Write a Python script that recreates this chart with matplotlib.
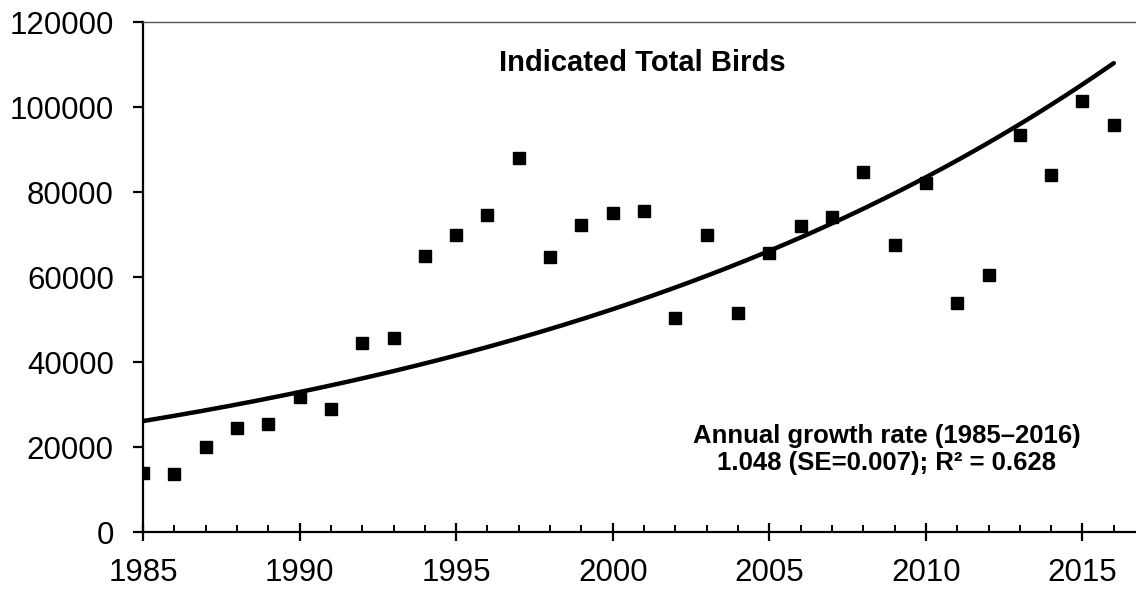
import numpy as np
import matplotlib.pyplot as plt
from matplotlib.ticker import MultipleLocator

years = list(range(1985, 2017))
birds = [14000, 13600, 20000, 24500, 25400, 31700, 28900, 44400, 45700, 65000,
         69900, 74600, 88100, 64600, 72200, 75000, 75600, 50300, 70000, 51500,
         65600, 72000, 74200, 84700, 67500, 82200, 53900, 60400, 93300, 84000,
         101500, 95700]

# fitted exponential trend: start value and annual growth rate
trend_start = 26100
growth_rate = 1.0476


def main():
    plt.rcParams['font.family'] = ['Liberation Sans', 'DejaVu Sans']
    fig = plt.figure(figsize=(11.36, 5.9), dpi=100)
    ax = fig.add_axes([0.1259, 0.0983, 0.8741, 0.8644])

    t = np.linspace(1985, 2016, 200)
    ax.plot(t, trend_start * growth_rate ** (t - 1985), color='black', lw=3.2,
            solid_capstyle='round', zorder=2)
    ax.plot(years, birds, 's', color='black', ms=9, zorder=3)

    ax.set_xlim(1985, 2016.71)
    ax.set_ylim(0, 120000)
    ax.xaxis.set_major_locator(MultipleLocator(5))
    ax.xaxis.set_minor_locator(MultipleLocator(1))
    ax.yaxis.set_major_locator(MultipleLocator(20000))

    ax.spines['right'].set_visible(False)
    ax.spines['top'].set_color('#555555')
    ax.spines['top'].set_linewidth(1.0)
    ax.spines['left'].set_linewidth(1.6)
    ax.spines['bottom'].set_linewidth(1.6)

    ax.tick_params(axis='x', which='major', direction='inout', length=13, width=1.6,
                   labelsize=22.5, pad=12)
    ax.tick_params(axis='x', which='minor', direction='in', length=5, width=1.4)
    ax.tick_params(axis='y', which='major', direction='out', length=7, width=1.6,
                   labelsize=22.5, pad=14)

    ax.text(2000.93, 110400, 'Indicated Total Birds', ha='center', va='center',
            fontsize=21, fontweight='bold')
    ax.text(2008.75, 19400, 'Annual growth rate (1985\u20132016)\n1.048 (SE=0.007); R\u00b2 = 0.628',
            ha='center', va='center', fontsize=18.5, fontweight='bold', linespacing=1.15)

    plt.savefig('out.png', dpi=100)


if __name__ == '__main__':
    main()
